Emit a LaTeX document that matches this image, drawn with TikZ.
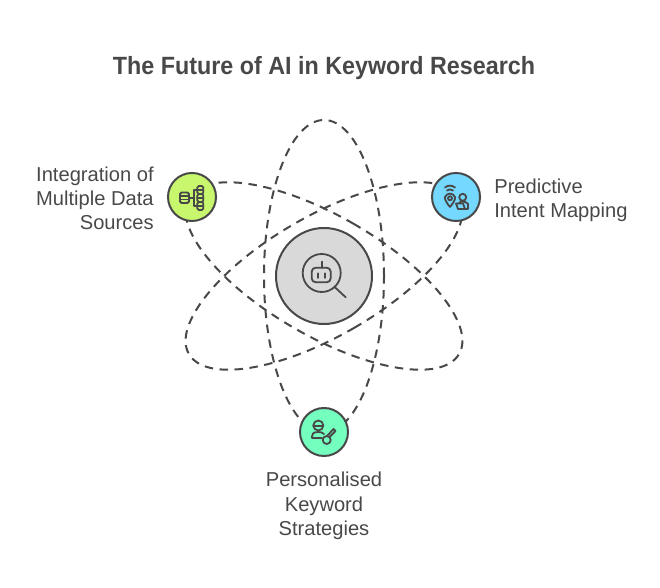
\documentclass[tikz,border=0pt]{standalone}
\usepackage{fontspec}
\setmainfont{Liberation Sans}
\newfontfamily\titlefont[FakeStretch=0.934]{Liberation Sans}
\usepackage{xcolor}
\usetikzlibrary{positioning}
\definecolor{inkgray}{HTML}{484848}
\definecolor{limefill}{HTML}{C8F76E}
\definecolor{skyfill}{HTML}{75D8FF}
\definecolor{mintfill}{HTML}{75FFBF}
\definecolor{hubfill}{HTML}{D9D9D9}
\tikzset{
    orbit/.style={draw=inkgray,line width=0.04cm,dash pattern=on 0.17cm off 0.13cm},
    spot/.style={circle,draw=inkgray,line width=0.04cm,minimum size=0.96cm,inner sep=0},
    lbl/.style={text=inkgray,font=\fontsize{11.45}{13.7}\selectfont,inner sep=0},
    icon/.style={draw=inkgray,line width=0.036cm,line cap=round,line join=round},
    iconbox/.style={x=0.02cm,y=-0.02cm}
}
\begin{document}
\begin{tikzpicture}
    \useasboundingbox (0,0) rectangle (13.2,11.76);
    \coordinate (centre) at (6.48,6.24);
    \draw [orbit] (centre) ellipse [x radius=1.2,y radius=3.12];
    \draw [orbit,rotate around={60:(centre)}] (centre) ellipse [x radius=1.2,y radius=3.12];
    \draw [orbit,rotate around={-60:(centre)}] (centre) ellipse [x radius=1.2,y radius=3.12];
    \node [spot,fill=hubfill,minimum size=1.92cm] (hub) at (centre) {};
    \node [spot,fill=limefill] (datanode) at (3.84,7.82) {};
    \node [spot,fill=skyfill] (intentnode) at (9.12,7.82) {};
    \node [spot,fill=mintfill] (keynode) at (6.48,3.12) {};
    \node [text=inkgray,font=\fontsize{14.2}{16}\titlefont\bfseries,inner sep=0] (title) at (6.48,10.39) {The Future of AI in Keyword Research};
    \node [lbl,align=right,left=0.26cm of datanode,yshift=-0.03cm] (datalabel) {Integration of\\Multiple Data\\Sources};
    \node [lbl,align=left,right=0.26cm of intentnode,yshift=-0.06cm] (intentlabel) {Predictive\\Intent Mapping};
    \node [lbl,align=center,below=0.3cm of keynode] (keylabel) {Personalised\\Keyword\\Strategies};
    \begin{scope}[iconbox,shift={(hub.center)}]
        \draw [icon] (-2.3,-3) circle [radius=19];
        \draw [icon] (10.3,10.7) -- (21.7,21.3);
        \draw [icon,rounded corners=0.08cm] (-12.3,-8.3) rectangle (6.7,6.3);
        \draw [icon] (-2.3,-14.3) -- (-2.3,-8.3);
        \draw [icon] (-5.7,-2.7) -- (-5.7,2);
        \draw [icon] (1,-2.7) -- (1,2);
    \end{scope}
    \begin{scope}[iconbox,shift={(datanode.center)}]
        \draw [icon,rounded corners=0.03cm] (-12,-4.5) rectangle (-3,6);
        \draw [icon] (-12,-1) -- (-3,-1);
        \draw [icon] (-12,2.5) -- (-3,2.5);
        \draw [icon] (-3,1) -- (2,1);
        \draw [icon] (5.3,-7) -- (2,-7) -- (2,9) -- (5.3,9);
        \foreach \yy in {-7,1,9} {
            \draw [icon,rounded corners=0.03cm] (5.3,\yy-4) rectangle (11.3,\yy+4);
            \draw [icon] (5.3,\yy) -- (11.3,\yy);
        }
    \end{scope}
    \begin{scope}[iconbox,shift={(intentnode.center)}]
        \draw [icon] (-6,10) .. controls (-11,4) and (-11.5,1) .. (-11,0) .. controls (-9,-4.5) and (-3,-4.5) .. (-1,0) .. controls (-0.5,1) and (-1,4) .. (-6,10);
        \draw [icon] (-6,1.3) circle [radius=2];
        \draw [icon] (-9,-6.5) .. controls (-7.5,-8) and (-4.5,-8) .. (-3,-6.5);
        \draw [icon] (-11,-9.5) .. controls (-8,-12) and (-4,-12) .. (-1,-9.5);
        \draw [icon] (6.7,0.3) circle [radius=3.5];
        \draw [icon] (3,6) .. controls (4,4) and (10,4) .. (12,7) -- (12,11);
        \draw [icon] (0,6.5) -- (7,6.5) -- (9,12) -- (2,12) -- cycle;
        \draw [icon] (9,12) -- (12,12) -- (12,11);
    \end{scope}
    \begin{scope}[iconbox,shift={(keynode.center)}]
        \draw [icon] (-5.7,-6.5) circle [radius=5];
        \draw [icon] (-10.7,-6) -- (-0.7,-6);
        \draw [icon] (-11.7,4) .. controls (-11.7,0) and (-8,0) .. (-5.7,0) .. controls (-3.5,0) and (-1.5,0.5) .. (0,2);
        \draw [icon] (-11.7,4) -- (-11.7,6) -- (-2,6);
        \draw [icon] (2.7,8) circle [radius=4];
        \draw [icon] (5.5,5) -- (11.5,-1) -- (9.5,-3) -- (3.5,3.5);
    \end{scope}
\end{tikzpicture}
\end{document}
